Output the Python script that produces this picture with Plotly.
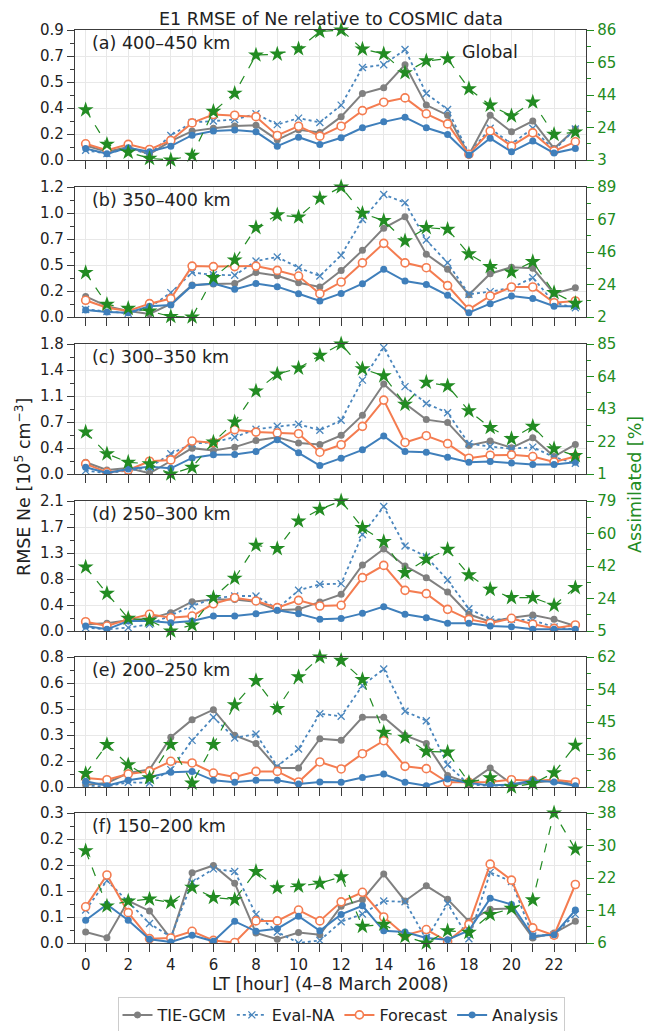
import numpy as np
import plotly.graph_objects as go

hours = list(range(24))
panel_labels = ["(a) 400–450 km", "(b) 350–400 km", "(c) 300–350 km",
                "(d) 250–300 km", "(e) 200–250 km", "(f) 150–200 km"]

# ---- TIE-GCM ----
tiegcm_a = [0.10, 0.057, 0.09, 0.04, 0.13, 0.20, 0.22, 0.235, 0.24, 0.14, 0.21, 0.19,
            0.30, 0.46, 0.50, 0.66, 0.38, 0.31, 0.035, 0.31, 0.195, 0.27, 0.08, 0.215]
tiegcm_b = [0.19, 0.10, 0.055, 0.028, 0.12, 0.295, 0.305, 0.31, 0.41, 0.38, 0.317, 0.277,
            0.43, 0.615, 0.82, 0.926, 0.58, 0.44, 0.206, 0.40, 0.46, 0.45, 0.215, 0.27]
tiegcm_c = [0.163, 0.056, 0.084, 0.01, 0.18, 0.358, 0.326, 0.372, 0.465, 0.51, 0.428, 0.41,
            0.535, 0.814, 1.247, 0.977, 0.753, 0.712, 0.395, 0.456, 0.363, 0.502, 0.242, 0.41]
tiegcm_d = [0.108, 0.124, 0.172, 0.20, 0.296, 0.474, 0.51, 0.51, 0.474, 0.334, 0.35, 0.468,
            0.592, 1.066, 1.325, 1.05, 0.862, 0.63, 0.27, 0.15, 0.215, 0.258, 0.188, 0.08]
tiegcm_e = [0.014, 0.025, 0.086, 0.107, 0.306, 0.414, 0.476, 0.318, 0.267, 0.117, 0.117, 0.297,
            0.287, 0.429, 0.429, 0.318, 0.267, 0.07, 0.025, 0.117, 0.02, 0.025, 0.041, 0.014]
tiegcm_f = [0.0255, 0.0124, 0.0974, 0.074, 0.010, 0.162, 0.179, 0.138, 0.023, 0.0085, 0.024, 0.019,
            0.085, 0.10, 0.159, 0.097, 0.132, 0.101, 0.050, 0.078, 0.080, 0.0116, 0.023, 0.050]

# ---- Eval-NA ----
evalna_a = [0.067, 0.044, 0.08, 0.04, 0.17, 0.26, 0.27, 0.28, 0.32, 0.245, 0.29, 0.26,
            0.38, 0.64, 0.66, 0.765, 0.46, 0.35, 0.044, 0.22, 0.11, 0.22, 0.067, 0.215]
evalna_b = [0.07, 0.05, 0.034, 0.086, 0.225, 0.41, 0.39, 0.385, 0.517, 0.554, 0.455, 0.378,
            0.57, 0.90, 1.13, 1.055, 0.71, 0.50, 0.21, 0.234, 0.27, 0.363, 0.132, 0.086]
evalna_c = [0.047, 0.01, 0.047, 0.093, 0.28, 0.42, 0.44, 0.51, 0.62, 0.66, 0.69, 0.605,
            0.744, 1.30, 1.75, 1.21, 0.977, 0.847, 0.42, 0.38, 0.35, 0.372, 0.233, 0.149]
evalna_d = [0.054, 0.027, 0.054, 0.108, 0.253, 0.404, 0.528, 0.565, 0.565, 0.36, 0.657, 0.754,
            0.765, 1.56, 2.01, 1.373, 1.20, 0.824, 0.36, 0.188, 0.188, 0.172, 0.065, 0.027]
evalna_e = [0.008, 0.004, 0.029, 0.025, 0.107, 0.287, 0.429, 0.302, 0.326, 0.127, 0.234, 0.451,
            0.435, 0.624, 0.726, 0.466, 0.408, 0.137, 0.014, 0.008, 0.01, 0.031, 0.041, 0.008]
evalna_f = [0.076, 0.144, 0.095, 0.045, 0.014, 0.14, 0.171, 0.165, 0.066, 0.0255, 0.0, 0.006,
            0.049, 0.067, 0.097, 0.095, 0.0085, 0.091, 0.01, 0.163, 0.142, 0.016, 0.019, 0.066]

# ---- Forecast ----
forecast_a = [0.112, 0.067, 0.108, 0.073, 0.135, 0.257, 0.315, 0.31, 0.30, 0.17, 0.234, 0.165,
              0.234, 0.342, 0.40, 0.43, 0.32, 0.25, 0.04, 0.20, 0.096, 0.188, 0.062, 0.126]
forecast_b = [0.154, 0.086, 0.055, 0.123, 0.17, 0.47, 0.465, 0.465, 0.47, 0.43, 0.378, 0.215,
              0.323, 0.50, 0.68, 0.50, 0.455, 0.29, 0.07, 0.194, 0.277, 0.277, 0.132, 0.148]
forecast_c = [0.14, 0.023, 0.056, 0.177, 0.195, 0.456, 0.433, 0.614, 0.58, 0.567, 0.558, 0.302,
              0.405, 0.66, 1.023, 0.437, 0.53, 0.42, 0.219, 0.26, 0.265, 0.242, 0.167, 0.242]
forecast_d = [0.15, 0.08, 0.188, 0.27, 0.215, 0.242, 0.44, 0.538, 0.485, 0.377, 0.495, 0.404,
              0.415, 0.862, 1.06, 0.657, 0.603, 0.35, 0.188, 0.124, 0.205, 0.108, 0.043, 0.097]
forecast_e = [0.055, 0.045, 0.08, 0.096, 0.158, 0.148, 0.086, 0.062, 0.096, 0.096, 0.031, 0.154,
              0.111, 0.205, 0.285, 0.127, 0.113, 0.029, 0.029, 0.031, 0.045, 0.039, 0.045, 0.031]
forecast_f = [0.0835, 0.157, 0.070, 0.010, 0.0116, 0.027, 0.006, 0.001, 0.051, 0.051, 0.076, 0.051,
              0.095, 0.117, 0.060, 0.018, 0.031, 0.004, 0.043, 0.182, 0.145, 0.035, 0.018, 0.135]

# ---- Analysis ----
analysis_a = [0.08, 0.044, 0.085, 0.057, 0.096, 0.172, 0.20, 0.207, 0.195, 0.096, 0.158, 0.108,
              0.154, 0.223, 0.264, 0.296, 0.223, 0.177, 0.035, 0.15, 0.057, 0.131, 0.048, 0.08]
analysis_b = [0.065, 0.046, 0.04, 0.10, 0.11, 0.29, 0.31, 0.255, 0.31, 0.28, 0.215, 0.148,
              0.218, 0.308, 0.44, 0.332, 0.30, 0.20, 0.04, 0.123, 0.194, 0.17, 0.10, 0.10]
analysis_c = [0.093, 0.014, 0.07, 0.10, 0.079, 0.223, 0.265, 0.27, 0.31, 0.474, 0.293, 0.116,
              0.219, 0.335, 0.526, 0.31, 0.302, 0.233, 0.163, 0.172, 0.153, 0.13, 0.13, 0.163]
analysis_d = [0.08, 0.027, 0.161, 0.161, 0.135, 0.161, 0.242, 0.242, 0.28, 0.334, 0.28, 0.188,
              0.20, 0.285, 0.393, 0.27, 0.215, 0.124, 0.124, 0.08, 0.07, 0.027, 0.027, 0.027]
analysis_e = [0.035, 0.008, 0.041, 0.062, 0.09, 0.096, 0.041, 0.029, 0.041, 0.041, 0.018, 0.031,
              0.029, 0.059, 0.08, 0.029, 0.008, 0.049, 0.025, 0.01, 0.014, 0.041, 0.031, 0.008]
analysis_f = [0.0526, 0.089, 0.0526, 0.0085, 0.0023, 0.018, 0.004, 0.050, 0.027, 0.033, 0.062, 0.028,
              0.066, 0.086, 0.028, 0.0255, 0.0116, 0.0077, 0.029, 0.103, 0.089, 0.016, 0.019, 0.076]

# ---- Assimilated [%] ----
assim_a = [35, 13, 8, 4, 3, 6, 34, 45.6, 70, 70.6, 74, 85, 86, 73.8, 70.8, 58.7,
           66.3, 67.6, 48.5, 38, 31.2, 40, 19.3, 20.8]
assim_b = [31.7, 10.5, 7.8, 6, 2.3, 2, 28.3, 40.1, 61.8, 70.3, 68.9, 81.4, 89, 71.4, 66.5, 52.9,
           61.8, 60.7, 44.2, 35.7, 32.1, 39, 18.3, 11.1]
assim_c = [28.1, 14, 8.6, 7.5, 1, 5.3, 21.6, 34.6, 54.6, 65.5, 69.4, 77.6, 85, 69, 64.4, 46,
           60.3, 57.9, 41.8, 31, 23.8, 31.8, 17.3, 12.9]
assim_d = [41.4, 26.4, 12.2, 11, 5, 8.4, 24, 35, 53.8, 51.9, 67.6, 74.3, 79, 63.8, 55.9, 38.2,
           45.8, 51.5, 36.9, 28.7, 24, 24, 19.6, 29.7]
assim_e = [31.5, 39.1, 33.8, 30.4, 39.1, 29, 39.1, 49.5, 55.8, 48.5, 56.8, 62, 61.1, 56.1, 42.3, 41,
           37.3, 37.1, 29.2, 30.4, 28, 28.9, 31.7, 38.9]
assim_f = [28.7, 15.1, 16.3, 16.8, 16, 19.7, 17.2, 16.7, 23.6, 19.6, 20, 20.7, 22.3, 10.1, 10.6, 7.6,
           6, 9, 8.6, 13, 14.5, 16.6, 38, 29.1]

# ---- axis ranges and tick labels ----
left_ranges = [[0, 0.9], [0, 1.2], [0, 1.8], [0, 2.1], [0, 0.8], [0, 0.3]]
right_ranges = [[3, 86], [2, 89], [1, 85], [5, 79], [28, 62], [6, 38]]
left_ticktext = [["0.0", "0.2", "0.4", "0.5", "0.7", "0.9"],
                 ["0.0", "0.2", "0.5", "0.7", "1.0", "1.2"],
                 ["0.0", "0.4", "0.7", "1.1", "1.4", "1.8"],
                 ["0.0", "0.4", "0.8", "1.3", "1.7", "2.1"],
                 ["0.0", "0.2", "0.3", "0.5", "0.6", "0.8"],
                 ["0.0", "0.1", "0.1", "0.2", "0.2", "0.3"]]
right_ticktext = [["3", "24", "44", "65", "86"],
                  ["2", "24", "46", "67", "89"],
                  ["1", "22", "43", "64", "85"],
                  ["5", "24", "42", "60", "79"],
                  ["28", "36", "45", "54", "62"],
                  ["6", "14", "22", "30", "38"]]
x_tickvals = [0, 2, 4, 6, 8, 10, 12, 14, 16, 18, 20, 22]
x_ticktext = ["0", "2", "4", "6", "8", "10", "12", "14", "16", "18", "20", "22"]

tiegcm = [tiegcm_a, tiegcm_b, tiegcm_c, tiegcm_d, tiegcm_e, tiegcm_f]
evalna = [evalna_a, evalna_b, evalna_c, evalna_d, evalna_e, evalna_f]
forecast = [forecast_a, forecast_b, forecast_c, forecast_d, forecast_e, forecast_f]
analysis = [analysis_a, analysis_b, analysis_c, analysis_d, analysis_e, analysis_f]
assim = [assim_a, assim_b, assim_c, assim_d, assim_e, assim_f]

W, H = 648, 1031
ML, MR = 75, 62
PW = W - ML - MR
tops = [30, 187, 344, 501, 657, 813]
PH = 130

C_TIE = "#808080"
C_EVAL = "#4a86bd"
C_FC = "#f47c50"
C_AN = "#3f7fbb"
C_GR = "#228B22"
FRAME = "#3c3c3c"
GRID = "#e8e8e8"
FONT = "DejaVu Sans"

fig = go.Figure()
layout = {}
annotations = []

for i in range(6):
    n = i + 1
    xa = "x" if n == 1 else f"x{n}"
    yl_n = 2 * n - 1
    yr_n = 2 * n
    yl = "y" if yl_n == 1 else f"y{yl_n}"
    yr = f"y{yr_n}"
    show = (i == 0)

    fig.add_trace(go.Scatter(x=hours, y=tiegcm[i], name="TIE-GCM", mode="lines+markers",
                             line=dict(color=C_TIE, width=2),
                             marker=dict(symbol="circle", size=7, color=C_TIE),
                             xaxis=xa, yaxis=yl, showlegend=show, legendgroup="tie"))
    fig.add_trace(go.Scatter(x=hours, y=evalna[i], name="Eval-NA", mode="lines+markers",
                             line=dict(color=C_EVAL, width=1.8, dash="dot"),
                             marker=dict(symbol="x-thin", size=7, color=C_EVAL,
                                         line=dict(color=C_EVAL, width=1.3)),
                             xaxis=xa, yaxis=yl, showlegend=show, legendgroup="eval"))
    fig.add_trace(go.Scatter(x=hours, y=forecast[i], name="Forecast", mode="lines+markers",
                             line=dict(color=C_FC, width=2),
                             marker=dict(symbol="circle", size=8, color="white",
                                         line=dict(color=C_FC, width=1.6)),
                             xaxis=xa, yaxis=yl, showlegend=show, legendgroup="fc"))
    fig.add_trace(go.Scatter(x=hours, y=analysis[i], name="Analysis", mode="lines+markers",
                             line=dict(color=C_AN, width=2),
                             marker=dict(symbol="circle", size=7, color=C_AN),
                             xaxis=xa, yaxis=yl, showlegend=show, legendgroup="an"))
    fig.add_trace(go.Scatter(x=hours, y=assim[i], name="Assimilated", mode="lines+markers",
                             line=dict(color=C_GR, width=1.2, dash="dash"),
                             marker=dict(symbol="star", size=12, color=C_GR),
                             xaxis=xa, yaxis=yr, showlegend=False, cliponaxis=False))

    dom = [1 - (tops[i] + PH) / H, 1 - tops[i] / H]
    lo, hi = left_ranges[i]
    lstep = (hi - lo) / 5
    rlo, rhi = right_ranges[i]
    rstep = (rhi - rlo) / 4

    layout["xaxis" if n == 1 else f"xaxis{n}"] = dict(
        domain=[0, 1], range=[-0.5, 23.5], anchor=yl, automargin=False,
        tickmode="array", tickvals=x_tickvals, ticktext=x_ticktext,
        showticklabels=(i == 5), ticks="outside", ticklen=8, tickwidth=1.2, tickcolor=FRAME,
        minor=dict(ticks="outside", ticklen=8, tickwidth=1.2, tickcolor=FRAME,
                   tickmode="linear", tick0=1, dtick=1, showgrid=True,
                   gridcolor=GRID, gridwidth=1),
        showgrid=True, gridcolor=GRID, gridwidth=1, zeroline=False,
        showline=True, linecolor=FRAME, linewidth=1.3, mirror=True,
        tickfont=dict(size=15, color="#222", family=FONT),
        matches=None if n == 1 else "x")
    layout["yaxis" if yl_n == 1 else f"yaxis{yl_n}"] = dict(
        domain=dom, range=[lo, hi], anchor=xa, automargin=False,
        tickmode="array", tickvals=[lo + k * lstep for k in range(6)], ticktext=left_ticktext[i],
        ticks="outside", ticklen=7, tickwidth=1.2, tickcolor=FRAME,
        minor=dict(ticks="outside", ticklen=4, tickwidth=1, tickcolor=FRAME,
                   tickmode="linear", tick0=lo, dtick=lstep / 2, showgrid=False),
        showgrid=True, gridcolor=GRID, gridwidth=1, zeroline=False,
        showline=True, linecolor=FRAME, linewidth=1.3, mirror=True,
        tickfont=dict(size=15, color="#222", family=FONT))
    layout[f"yaxis{yr_n}"] = dict(
        domain=dom, range=[rlo, rhi], anchor=xa, overlaying=yl, side="right", automargin=False,
        tickmode="array", tickvals=[rlo + k * rstep for k in range(5)], ticktext=right_ticktext[i],
        ticks="outside", ticklen=7, tickwidth=1.2, tickcolor=C_GR,
        minor=dict(ticks="outside", ticklen=4, tickwidth=1, tickcolor=C_GR,
                   tickmode="linear", tick0=rlo, dtick=rstep / 2, showgrid=False),
        showgrid=False, zeroline=False, showline=True, linecolor=FRAME, linewidth=1.3,
        tickfont=dict(size=15, color=C_GR, family=FONT))

    annotations.append(dict(text=panel_labels[i], xref=f"{xa} domain", yref=f"{yl} domain",
                            x=15 / PW, y=1 - 13 / PH, xanchor="left", yanchor="middle",
                            showarrow=False, font=dict(size=17.5, color="#222", family=FONT)))

annotations.append(dict(text="Global", xref="x domain", yref="y domain",
                        x=(460 - ML) / PW, y=1 - 22 / PH, xanchor="left", yanchor="middle",
                        showarrow=False, font=dict(size=17.5, color="#222", family=FONT)))
annotations.append(dict(text="E1 RMSE of Ne relative to COSMIC data", xref="paper", yref="paper",
                        x=0.5, y=1 - 19 / H, xanchor="center", yanchor="middle",
                        showarrow=False, font=dict(size=17.5, color="#222", family=FONT)))
annotations.append(dict(text="RMSE Ne [10<sup>5</sup> cm<sup>−3</sup>]", xref="paper", yref="paper",
                        x=(23 - ML) / PW, y=1 - 487 / H, xanchor="center", yanchor="middle",
                        textangle=-90, showarrow=False,
                        font=dict(size=17.5, color="#222", family=FONT)))
annotations.append(dict(text="Assimilated [%]", xref="paper", yref="paper",
                        x=(635 - ML) / PW, y=1 - 485 / H, xanchor="center", yanchor="middle",
                        textangle=-90, showarrow=False,
                        font=dict(size=17.5, color=C_GR, family=FONT)))
annotations.append(dict(text="LT [hour] (4–8 March 2008)", xref="paper", yref="paper",
                        x=0.5, y=1 - 984 / H, xanchor="center", yanchor="middle",
                        showarrow=False, font=dict(size=17.5, color="#222", family=FONT)))

fig.update_layout(
    template="none",
    width=W, height=H,
    margin=dict(l=ML, r=MR, t=0, b=0, pad=0, autoexpand=False),
    paper_bgcolor="white", plot_bgcolor="white",
    font=dict(family=FONT, size=15, color="#222"),
    annotations=annotations,
    legend=dict(orientation="h", x=(341 - ML) / PW, xanchor="center",
                y=1 - 997 / H, yanchor="top",
                bordercolor="#cccccc", borderwidth=1, bgcolor="white",
                font=dict(size=16, family=FONT, color="#222"),
                itemwidth=30, tracegroupgap=0),
    **layout,
)

fig.write_html("out.html",
               config={"displayModeBar": False},
               post_script="document.body.style.margin='0px';document.body.style.padding='0px';")
